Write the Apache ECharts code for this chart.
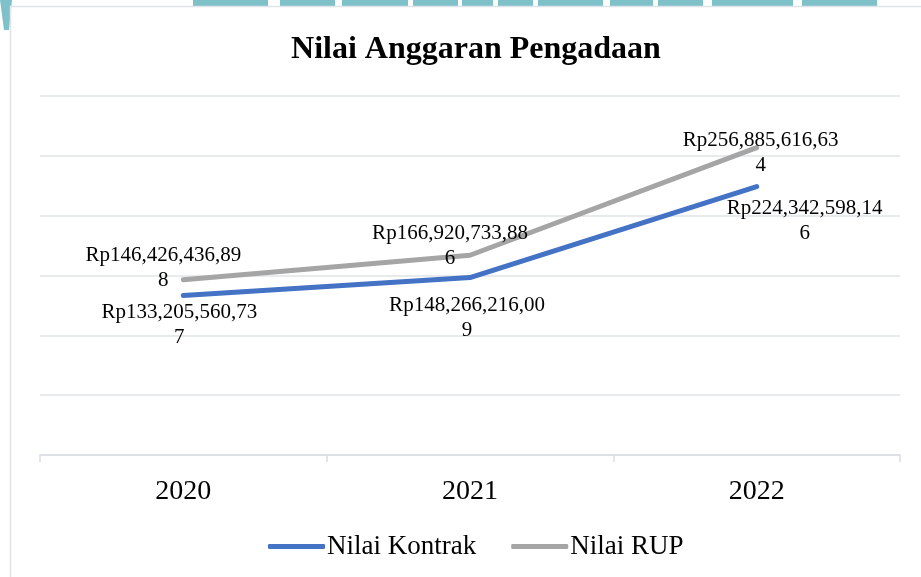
<!DOCTYPE html>
<html><head><meta charset="utf-8">
<script src="https://cdn.jsdelivr.net/npm/echarts@6/dist/echarts.min.js"></script>
<style>html,body{margin:0;padding:0;background:#fff}#c{width:921px;height:577px}</style>
</head><body><div id="c"></div>
<script>
var categories = ['2020', '2021', '2022'];
var nilaiKontrak = [133205560737, 148266216009, 224342598146];
var nilaiRUP = [146426436898, 166920733886, 256885616634];
var yMin = 0, yMax = 300000000000, yInterval = 50000000000;

var kontrakOffsets = [[-4, 29], [-3, 40], [48, 34]];
var rupOffsets = [[-20, -12], [-20, -9], [4, 5]];

function fmt(v) {
  var s = String(v).replace(/\B(?=(\d{3})+(?!\d))/g, ',');
  s = 'Rp' + s;
  return s.slice(0, s.length - 1) + '\n' + s.slice(s.length - 1);
}
var serif = '"Liberation Serif", "Times New Roman", serif';
function mk(vals, offs) {
  return vals.map(function (v, i) {
    return { value: v, label: { offset: offs[i] } };
  });
}
var chart = echarts.init(document.getElementById('c'));
var teal = '#7fc1c8';
var wm = [[193,268],[280,335],[342,408],[413,458],[462,493],[498,533],[538,603],[610,653],[658,703],[712,793],[802,877]];
var graphics = wm.map(function (r) {
  return { type: 'rect', shape: { x: r[0], y: 0, width: r[1] - r[0], height: 6 }, style: { fill: teal }, silent: true };
});
graphics.push({ type: 'polygon', shape: { points: [[0,0],[12,0],[9,30],[4,30]] }, style: { fill: teal }, silent: true });
graphics.push({ type: 'line', shape: { x1: 10.5, y1: 6, x2: 10.5, y2: 577 }, style: { stroke: '#dfe3ea', lineWidth: 1.5 } });
graphics.push({ type: 'line', shape: { x1: 10, y1: 6.5, x2: 921, y2: 6.5 }, style: { stroke: '#dfe3ea', lineWidth: 1.5 } });

chart.setOption({
  backgroundColor: '#fff',
  animation: false,
  graphic: graphics,
  title: {
    text: 'Nilai Anggaran Pengadaan', left: 471, top: 29, textAlign: 'center',
    textStyle: { fontFamily: serif, fontWeight: 'bold', fontSize: 32, color: '#000' }
  },
  legend: {
    left: 263, top: 528, itemWidth: 57, itemHeight: 5, itemGap: 35, icon: 'roundRect',
    textStyle: { fontFamily: serif, fontSize: 27, color: '#000', padding: [0, 0, 0, -3] },
    data: ['Nilai Kontrak', 'Nilai RUP']
  },
  grid: { left: 40, right: 21, top: 96, bottom: 122 },
  xAxis: {
    type: 'category', data: categories, boundaryGap: true,
    axisLine: { lineStyle: { color: '#d9dde3', width: 1.5 } },
    axisTick: { show: true, length: 7, lineStyle: { color: '#d9dde3', width: 1.5 } },
    axisLabel: { fontFamily: serif, fontSize: 28, color: '#000', margin: 23 }
  },
  yAxis: {
    type: 'value', min: yMin, max: yMax, interval: yInterval,
    axisLabel: { show: false }, axisLine: { show: false }, axisTick: { show: false },
    splitLine: { lineStyle: { color: '#e1e4e9', width: 1.5 } }
  },
  series: [
    {
      name: 'Nilai Kontrak', type: 'line', data: mk(nilaiKontrak, kontrakOffsets),
      symbol: 'circle', symbolSize: 1, color: '#4472c4',
      lineStyle: { width: 5, color: '#4472c4', cap: 'round', join: 'round' },
      label: { show: true, position: 'inside', align: 'center', verticalAlign: 'middle',
        fontFamily: serif, fontSize: 21, lineHeight: 25, color: '#000', formatter: function (p) { return fmt(p.value); } }
    },
    {
      name: 'Nilai RUP', type: 'line', data: mk(nilaiRUP, rupOffsets),
      symbol: 'circle', symbolSize: 1, color: '#a5a5a5',
      lineStyle: { width: 5, color: '#a5a5a5', cap: 'round', join: 'round' },
      label: { show: true, position: 'inside', align: 'center', verticalAlign: 'middle',
        fontFamily: serif, fontSize: 21, lineHeight: 25, color: '#000', formatter: function (p) { return fmt(p.value); } }
    }
  ]
});
</script>
</body></html>
